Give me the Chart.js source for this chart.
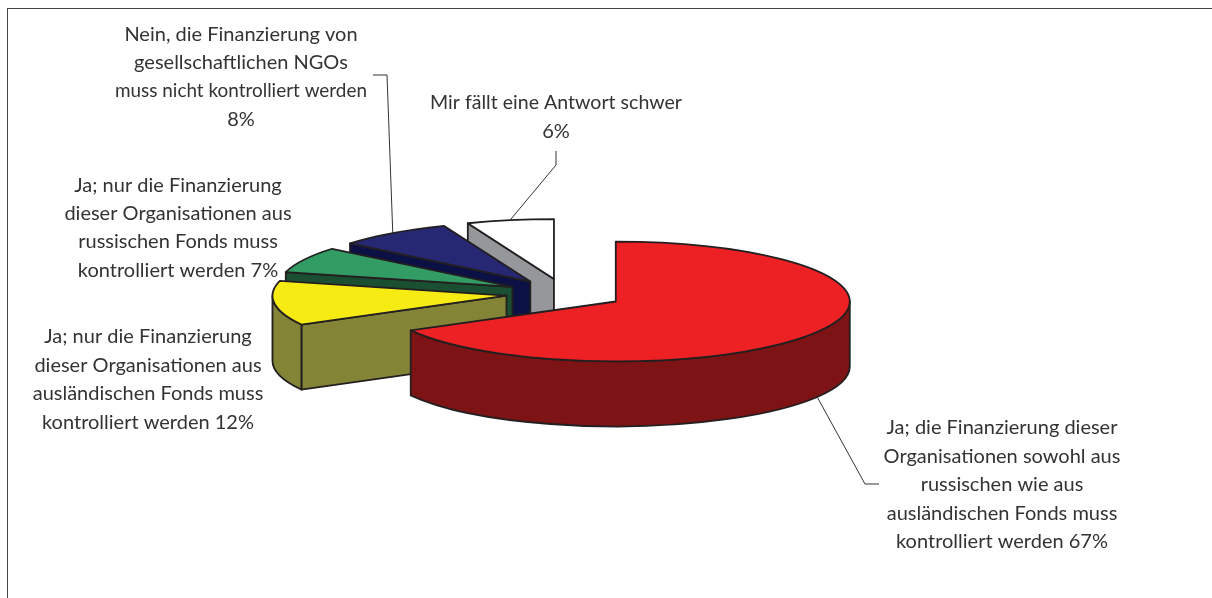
<!DOCTYPE html>
<html lang="de">
<head>
    <meta charset="UTF-8">
    <title>Finanzierung von NGOs</title>
    <script src="https://cdn.jsdelivr.net/npm/chart.js"></script>
    <style>
        html, body {
            margin: 0;
            padding: 0;
            width: 1212px;
            height: 598px;
            overflow: hidden;
            background: #fff;
        }
        .frame {
            position: absolute;
            left: 7px;
            top: 8px;
            width: 1205px;
            height: 590px;
            border-left: 1px solid #444;
            border-top: 1px solid #444;
        }
        canvas {
            position: absolute;
            left: 0;
            top: 0;
        }
    </style>
</head>
<body>
    <div class="frame"></div>
    <canvas id="pie" width="1212" height="598"></canvas>

    <script>
        const categories = [
            ['Ja; die Finanzierung dieser', 'Organisationen sowohl aus', 'russischen wie aus', 'ausländischen Fonds muss', 'kontrolliert werden 67%'],
            ['Ja; nur die Finanzierung', 'dieser Organisationen aus', 'ausländischen Fonds muss', 'kontrolliert werden 12%'],
            ['Ja; nur die Finanzierung', 'dieser Organisationen aus', 'russischen Fonds muss', 'kontrolliert werden 7%'],
            ['Nein, die Finanzierung von', 'gesellschaftlichen NGOs', 'muss nicht kontrolliert werden', '8%'],
            ['Mir fällt eine Antwort schwer', '6%']
        ];
        const values = [67, 12, 7, 8, 6];
        const topColors = ['#ed2024', '#f6ec14', '#329c64', '#262874', '#ffffff'];
        const sideColors = ['#7d1315', '#848437', '#1a4f32', '#0b1045', '#96979a'];

        // Aussehen der 3D-Torte
        const radius = 234;
        const explode = 59;       // Abstand jedes Stücks von der Mitte
        const squash = 0.256;     // Höhe / Breite der Ellipse
        const depth = 65;
        const centerY = 293.8;
        const drawOrder = [4, 3, 2, 1, 0];
        const outline = '#231f20';

        // Beschriftungen: Mitte x, Grundlinien y
        const labelX = [1002, 148, 178, 241, 556];
        const labelY = [
            [434, 463, 491, 520, 548],
            [343, 372, 400, 429],
            [192, 220, 248, 277],
            [41, 69, 97, 126],
            [109, 138]
        ];
        const labelMaxWidth = 252;
        // Führungslinien: Knickpunkte, das Ende liegt auf dem Stück
        const leaders = [
            { index: 0, points: [[879, 484], [865, 484]], onSide: true },
            { index: 3, points: [[373, 75], [387, 75]], onSide: false },
            { index: 4, points: [[556, 151], [556, 165]], onSide: false }
        ];

        function geometry(arc) {
            const p = arc.getProps(['x', 'y', 'startAngle', 'endAngle', 'outerRadius'], true);
            const mid = (p.startAngle + p.endAngle) / 2;
            return {
                x: p.x + Math.cos(mid) * explode,
                y: centerY + Math.sin(mid) * explode * squash,
                r: p.outerRadius,
                start: p.startAngle,
                end: p.endAngle,
                mid: mid
            };
        }

        function rim(g, angle) {
            return [g.x + g.r * Math.cos(angle), g.y + g.r * squash * Math.sin(angle)];
        }

        function drawFace(ctx, g, angle, color) {
            const e = rim(g, angle);
            ctx.beginPath();
            ctx.moveTo(g.x, g.y);
            ctx.lineTo(e[0], e[1]);
            ctx.lineTo(e[0], e[1] + depth);
            ctx.lineTo(g.x, g.y + depth);
            ctx.closePath();
            ctx.fillStyle = color;
            ctx.fill();
            ctx.stroke();
        }

        function drawRimWall(ctx, g, color) {
            const a0 = Math.max(g.start, 0);
            const a1 = Math.min(g.end, Math.PI);
            if (a1 <= a0) return;
            ctx.beginPath();
            ctx.ellipse(g.x, g.y, g.r, g.r * squash, 0, a0, a1);
            ctx.ellipse(g.x, g.y + depth, g.r, g.r * squash, 0, a1, a0, true);
            ctx.closePath();
            ctx.fillStyle = color;
            ctx.fill();
            ctx.stroke();
        }

        // Zeichnet die Stücke von hinten nach vorne, das Chart.js-Arc wird dafür gestaucht und verschoben
        const pie3d = {
            id: 'pie3d',
            beforeDatasetDraw(chart) {
                const ctx = chart.ctx;
                const arcs = chart.getDatasetMeta(0).data;
                drawOrder.forEach(i => {
                    const arc = arcs[i];
                    const g = geometry(arc);

                    ctx.save();
                    ctx.strokeStyle = outline;
                    ctx.lineWidth = 1.8;
                    ctx.lineJoin = 'round';
                    // nur die Schnittflächen, die zum Betrachter zeigen
                    if (Math.cos(g.start) < -1e-6) drawFace(ctx, g, g.start, sideColors[i]);
                    if (Math.cos(g.end) > 1e-6) drawFace(ctx, g, g.end, sideColors[i]);
                    drawRimWall(ctx, g, sideColors[i]);
                    ctx.restore();

                    ctx.save();
                    ctx.translate(g.x - arc.x, g.y);
                    ctx.scale(1, squash);
                    ctx.translate(0, -arc.y);
                    arc.draw(ctx);
                    ctx.restore();

                    ctx.save();
                    ctx.strokeStyle = outline;
                    ctx.lineWidth = 1.8;
                    ctx.lineJoin = 'round';
                    ctx.beginPath();
                    ctx.moveTo(g.x, g.y);
                    ctx.ellipse(g.x, g.y, g.r, g.r * squash, 0, g.start, g.end);
                    ctx.closePath();
                    ctx.stroke();
                    ctx.restore();
                });
                return false;
            },
            afterDraw(chart) {
                const ctx = chart.ctx;
                const arcs = chart.getDatasetMeta(0).data;
                ctx.save();
                ctx.strokeStyle = '#333';
                ctx.lineWidth = 1;
                leaders.forEach(l => {
                    const g = geometry(arcs[l.index]);
                    const end = rim(g, g.mid);
                    ctx.beginPath();
                    ctx.moveTo(l.points[0][0], l.points[0][1]);
                    ctx.lineTo(l.points[1][0], l.points[1][1]);
                    ctx.lineTo(end[0], end[1] + (l.onSide ? depth : 0));
                    ctx.stroke();
                });
                ctx.fillStyle = '#333';
                ctx.font = '20px Lato';
                ctx.textAlign = 'center';
                ctx.textBaseline = 'alphabetic';
                categories.forEach((lines, i) => {
                    lines.forEach((line, j) => {
                        ctx.fillText(line, labelX[i], labelY[i][j], labelMaxWidth);
                    });
                });
                ctx.restore();
            }
        };

        new Chart(document.getElementById('pie'), {
            type: 'pie',
            data: {
                labels: categories.map(c => c.join(' ')),
                datasets: [{
                    data: values,
                    backgroundColor: topColors,
                    borderWidth: 0,
                    offset: 0,
                    radius: radius
                }]
            },
            options: {
                responsive: false,
                animation: false,
                layout: { padding: { right: 82 } },
                plugins: {
                    legend: { display: false },
                    tooltip: { enabled: false }
                }
            },
            plugins: [pie3d]
        });
    </script>
</body>
</html>
